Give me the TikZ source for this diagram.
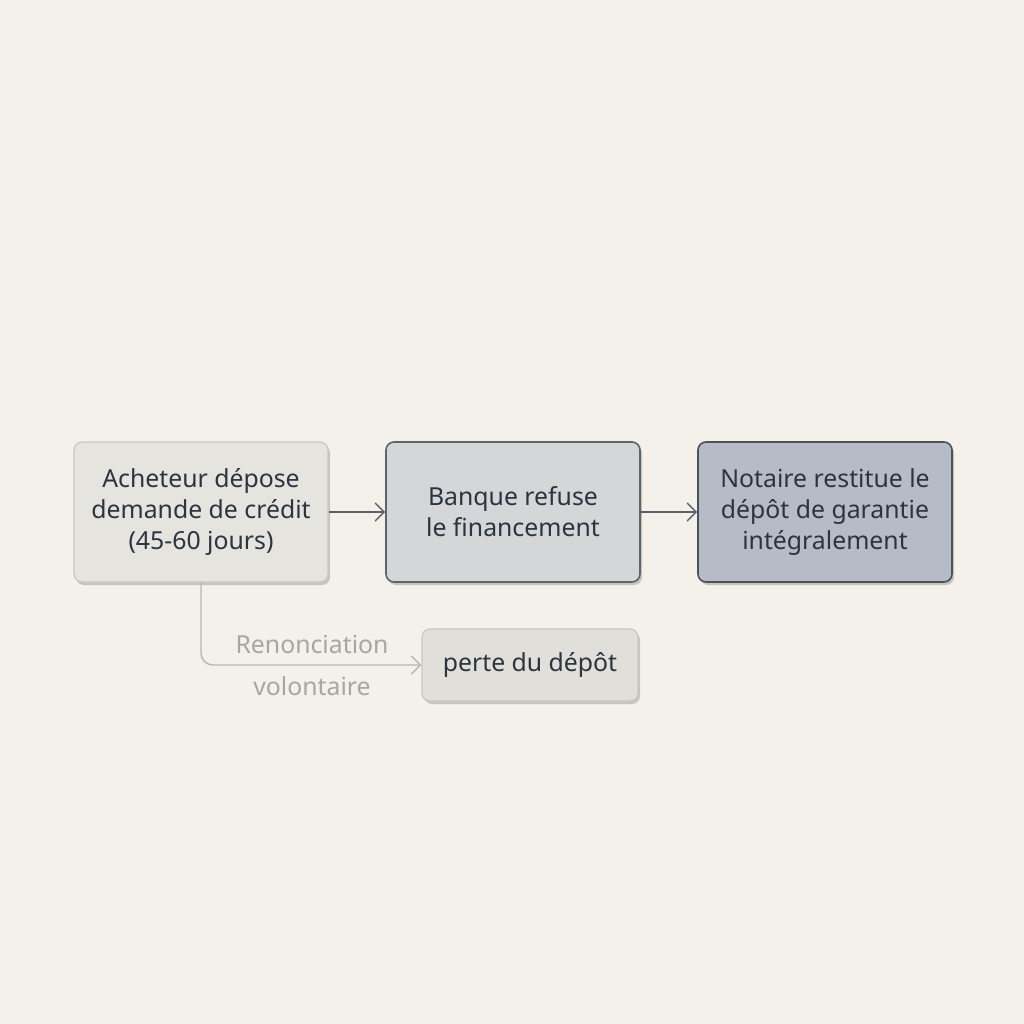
\documentclass[tikz,border=0pt]{standalone}
\usepackage{fontspec}
\setmainfont{Noto Sans}
\usetikzlibrary{arrows.meta,shadows}
\definecolor{bg}{HTML}{F3F1E9}
\definecolor{txt}{HTML}{2C3440}
\definecolor{fillA}{HTML}{E5E4DF}
\definecolor{fillB}{HTML}{D4D6D7}
\definecolor{fillC}{HTML}{B6BCC5}
\definecolor{fillD}{HTML}{E0DFDA}
\definecolor{edgeA}{HTML}{C8C7C2}
\definecolor{edgeB}{HTML}{5E646B}
\definecolor{edgeC}{HTML}{4C525A}
\definecolor{arr}{HTML}{5A616A}
\definecolor{faint}{HTML}{B6B6B2}
\definecolor{faintTxt}{HTML}{A6A6A2}
\tikzset{
  card/.style={rounded corners=4pt, minimum width=127pt, minimum height=70pt,
    align=center, text=txt, font=\fontsize{12.4pt}{15.5pt}\selectfont,
    drop shadow={shadow xshift=1pt, shadow yshift=-1.5pt, opacity=0.18, fill=black}},
  cardA/.style={card, fill=fillA, draw=edgeA, line width=0.6pt},
  cardB/.style={card, fill=fillB, draw=edgeB, line width=0.8pt},
  cardC/.style={card, fill=fillC, draw=edgeC, line width=0.8pt},
  cardD/.style={card, fill=fillD, draw=edgeA, line width=0.6pt, minimum width=108pt, minimum height=36pt},
  flow/.style={draw=arr, line width=0.7pt, -{Straight Barb[length=4.5pt,width=9pt]}},
  faintflow/.style={draw=faint, line width=0.7pt, rounded corners=6pt, -{Straight Barb[length=4.5pt,width=9pt]}},
  lbl/.style={text=faintTxt, font=\fontsize{12.4pt}{14pt}\selectfont}
}
\begin{document}
\begin{tikzpicture}[x=0.5pt,y=-0.5pt]
\fill[bg] (0,0) rectangle (1024,1024);
\useasboundingbox (0,0) rectangle (1024,1024);
\node[cardA] (a) at (201,512) {Acheteur dépose\\demande de crédit\\(45-60 jours)};
\node[cardB] (b) at (513,512) {Banque refuse\\le financement};
\node[cardC] (c) at (825,512) {Notaire restitue le\\dépôt de garantie\\intégralement};
\node[cardD] (d) at (530,665) {perte du dépôt};
\draw[flow] (a.east) -- (b.west);
\draw[flow] (b.east) -- (c.west);
\draw[faintflow] (a.south) -- (201,665) -- (d.west);
\node[lbl] (l1) at (312,644) {Renonciation};
\node[lbl] (l2) at (312,686) {volontaire};
\end{tikzpicture}
\end{document}
